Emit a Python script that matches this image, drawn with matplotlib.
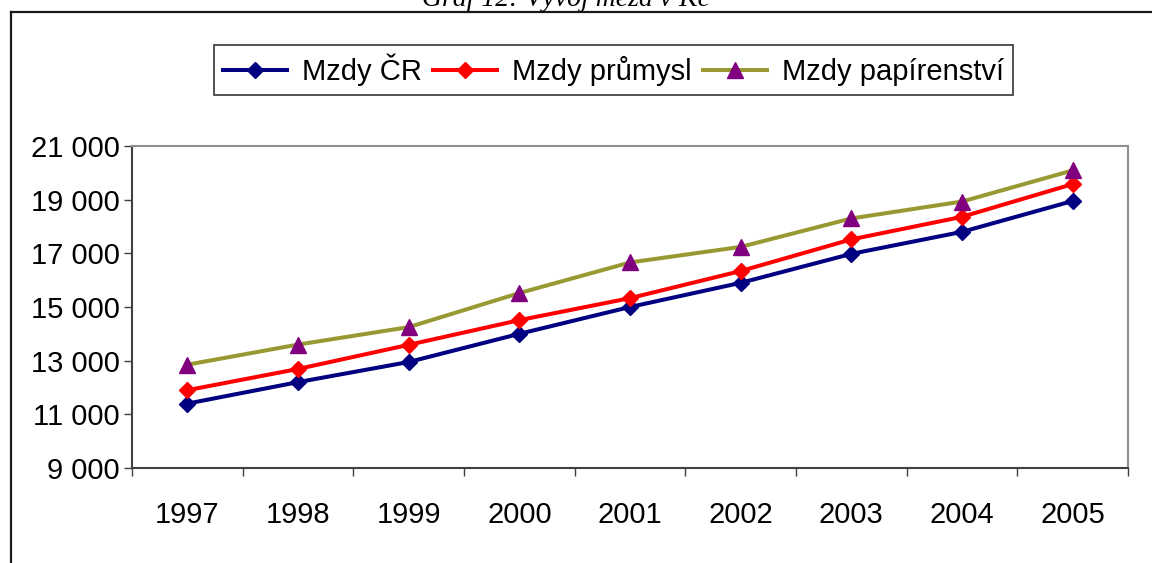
"""
Graf 12: Vývoj mezd v Kč (1997-2005)
"""

import matplotlib
matplotlib.use("Agg")
import matplotlib.pyplot as plt
from matplotlib.lines import Line2D
from matplotlib.ticker import FixedLocator, FuncFormatter

# ===== Data =====
YEARS = ["1997", "1998", "1999", "2000", "2001", "2002", "2003", "2004", "2005"]
MZDY_CR = [11400, 12200, 12950, 14000, 15000, 15900, 16980, 17800, 18950]
MZDY_PRUMYSL = [11900, 12690, 13590, 14510, 15330, 16340, 17520, 18360, 19580]
MZDY_PAPIRENSTVI = [12850, 13600, 14250, 15520, 16660, 17240, 18300, 18930, 20090]

TITLE = "Graf 12: Vývoj mezd v Kč"
FONT = "Liberation Sans"


def thousands(v, _pos):
    return f"{int(v):,}".replace(",", " ")


fig = plt.figure(figsize=(11.52, 5.63), dpi=100)
fig.patch.set_facecolor("white")

# outer frame (cropped document box)
fig.add_artist(Line2D([11 / 1152, 11 / 1152], [0, 1 - 11.5 / 563],
                      transform=fig.transFigure, color="#1a1a1a", lw=1.6))
fig.add_artist(Line2D([11 / 1152, 1], [1 - 11.5 / 563, 1 - 11.5 / 563],
                      transform=fig.transFigure, color="#1a1a1a", lw=1.6))
fig.text(566 / 1152, 1 - 6 / 563, TITLE, ha="center", va="baseline",
         fontsize=20, fontstyle="italic", family="Liberation Serif")

ax = fig.add_axes([132 / 1152, 1 - 468 / 563, (1128 - 132) / 1152, (468 - 146) / 563])
x = list(range(len(YEARS)))

ax.plot(x, MZDY_CR, color="#000080", lw=2.9, marker="D", ms=8,
        mfc="#000080", mec="#000080", label="Mzdy ČR")
ax.plot(x, MZDY_PRUMYSL, color="#FF0000", lw=2.9, marker="D", ms=8,
        mfc="#FF0000", mec="#FF0000", label="Mzdy průmysl")
ax.plot(x, MZDY_PAPIRENSTVI, color="#999933", lw=2.9, marker="^", ms=11,
        mfc="#800080", mec="#800080", label="Mzdy papírenství")

ax.set_xlim(-0.5, len(YEARS) - 0.5)
ax.set_ylim(9000, 21000)
ax.yaxis.set_major_locator(FixedLocator(range(9000, 21001, 2000)))
ax.yaxis.set_major_formatter(FuncFormatter(thousands))

ax.set_xticks(x)
ax.set_xticklabels(YEARS)
ax.xaxis.set_minor_locator(FixedLocator([i - 0.5 for i in range(len(YEARS) + 1)]))
ax.tick_params(axis="x", which="major", length=0, pad=24)
ax.tick_params(axis="x", which="minor", length=6, width=1, color="#404040", direction="out")
ax.tick_params(axis="y", length=6, width=1, color="#404040", direction="out", pad=3)
for lab in ax.get_xticklabels() + ax.get_yticklabels():
    lab.set_fontfamily(FONT)
    lab.set_fontsize(21)

for side in ("left", "bottom"):
    ax.spines[side].set_color("#404040")
    ax.spines[side].set_linewidth(1.5)
for side in ("top", "right"):
    ax.spines[side].set_color("#909090")
    ax.spines[side].set_linewidth(1.5)

leg = fig.legend(loc="center", bbox_to_anchor=(613.5 / 1152, 1 - 70 / 563), ncol=3,
                 prop={"family": FONT, "size": 21}, frameon=True, fancybox=False,
                 edgecolor="black", handlelength=2.2, handletextpad=0.5,
                 columnspacing=0.4, borderpad=0.3, borderaxespad=0)
leg.get_frame().set_linewidth(1.2)

fig.savefig("out.png", dpi=100, facecolor="white")
